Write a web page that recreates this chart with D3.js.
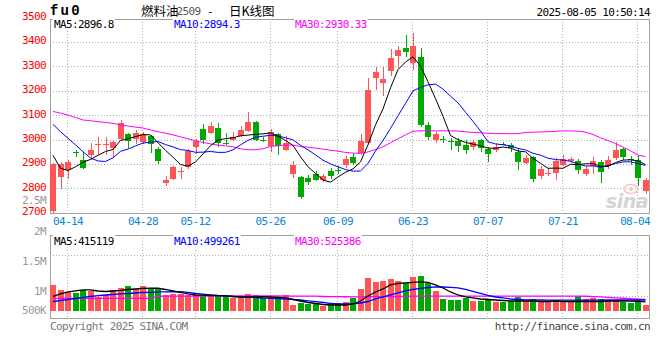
<!DOCTYPE html>
<html><head><meta charset="utf-8">
<script src="https://cdn.jsdelivr.net/npm/d3@7"></script>
<style>body{margin:0;background:#fff}svg{display:block}</style>
</head><body>
<svg id="c" width="660" height="360"></svg>
<script>
const dates = ["04-10","04-11","04-14","04-15","04-16","04-17","04-18","04-21","04-22","04-23","04-24","04-25","04-28","04-29","04-30","05-06","05-07","05-08","05-09","05-12","05-13","05-14","05-15","05-16","05-19","05-20","05-21","05-22","05-23","05-26","05-27","05-28","05-29","05-30","06-03","06-04","06-05","06-06","06-09","06-10","06-11","06-12","06-13","06-16","06-17","06-18","06-19","06-20","06-23","06-24","06-25","06-26","06-27","06-30","07-01","07-02","07-03","07-04","07-07","07-08","07-09","07-10","07-11","07-14","07-15","07-16","07-17","07-18","07-21","07-22","07-23","07-24","07-25","07-28","07-29","07-30","07-31","08-01","08-04","08-05"];
const open  = [2705,2845,2873,2950,2917,2935,2978,2979,2965,3003,3023,3001,2989,3015,2962,2822,2839,2868,2889,2970,3044,3026,3047,2987,2996,3015,3033,3072,2998,2975,3022,2958,2860,2846,2844,2860,2835,2872,2873,2894,2930,2944,2985,3251,3233,3282,3344,3376,3312,3340,3060,2996,3001,2992,2992,2978,2969,2999,2960,2958,2983,2978,2947,2903,2928,2849,2861,2862,2896,2913,2913,2860,2892,2906,2890,2924,2960,2921,2917,2787];
const high  = [2902,2908,2917,2958,2950,2985,3010,3010,2992,3078,3028,3037,3030,3018,2970,2851,2890,2887,2960,3001,3064,3072,3067,3026,3030,3056,3112,3075,3012,3042,3028,3016,2910,2851,2855,2872,2860,2885,2890,2933,2945,3022,3251,3299,3299,3371,3385,3428,3435,3376,3070,3030,3015,3008,3008,2996,2998,3003,2971,2984,2990,2984,2960,2936,2933,2890,2885,2924,2937,2930,2920,2893,2928,2914,2933,2988,2971,2933,2933,2844];
const low   = [2700,2797,2839,2930,2880,2914,2941,2935,2928,3000,2967,2981,2981,2944,2900,2808,2836,2839,2880,2941,2981,3021,2971,2978,2992,3011,3030,2995,2988,2947,2937,2951,2844,2756,2815,2828,2827,2839,2860,2884,2896,2937,2978,3203,3180,3262,3292,3340,3285,3053,2997,2984,2985,2958,2950,2941,2958,2948,2906,2950,2976,2950,2876,2899,2824,2839,2849,2835,2892,2905,2860,2849,2860,2822,2880,2917,2917,2896,2810,2777];
const close = [2900,2898,2906,2946,2884,2958,2983,2983,2988,3069,2992,3028,3023,2982,2910,2835,2887,2872,2951,2995,2999,3056,2985,2984,3010,3040,3072,2999,2995,3030,2972,2985,2896,2764,2824,2835,2851,2851,2871,2921,2903,2995,3203,3278,3248,3335,3367,3360,3383,3060,3012,3023,2998,2989,2975,2955,2988,2965,2941,2971,2981,2965,2906,2924,2838,2879,2863,2910,2920,2920,2873,2879,2913,2865,2917,2955,2928,2919,2842,2835];
const ma5  = [2935,2882,2873,2888,2906.8,2918.4,2935.4,2950.8,2959.2,2996.2,3003,3012,3020,3018.8,2987,2955.6,2927.4,2897.2,2891,2908,2940.8,2974.6,2997.2,3003.8,3006.8,3015,3018.2,3021,3023.2,3027.2,3013.6,2996.2,2975.6,2929.4,2888.2,2860.8,2834,2825,2846.4,2865.8,2879.4,2908.2,2978.6,3060,3125.4,3211.8,3286.2,3317.6,3338.6,3301,3236.4,3167.6,3095.2,3016.4,2999.4,2988,2981,2974.4,2964.8,2964,2969.2,2964.6,2952.8,2949.4,2922.8,2902.4,2882,2882.8,2882,2898.4,2897.2,2900.4,2901,2890,2889.4,2905.8,2915.6,2916.8,2912.2,2896.8];
const ma10 = [3062,3032,3005,2978,2950,2924,2912,2910,2925,2951.5,2960.7,2973.7,2985.4,2989,2991.6,2979.3,2969.7,2958.6,2954.9,2947.5,2948.2,2951,2947.2,2947.4,2957.4,2977.9,2996.4,3009.1,3013.5,3017,3014.3,3007.2,2998.3,2976.3,2957.7,2937.2,2915.1,2900.3,2887.9,2877,2870.1,2871.1,2901.8,2953.2,2995.6,3045.6,3097.2,3148.1,3199.3,3213.2,3224.1,3226.9,3206.4,3177.5,3150.2,3112.2,3074.3,3034.8,2990.6,2981.7,2978.6,2972.8,2963.6,2957.1,2943.4,2935.8,2923.3,2917.8,2915.7,2910.6,2899.8,2891.2,2891.9,2886,2893.9,2901.5,2908,2908.9,2901.1,2894.3];
const ma30 = [3115,3108,3100,3090,3080,3077,3073,3070,3066,3060,3055,3051,3047,3039,3032,3026,3019,3011,3003,2995,2988,2982,2977,2974,2970,2962,2958,2958,2962,2972,2974.4,2977.3,2977,2970.9,2968.9,2964.8,2960.4,2956,2952.1,2947.2,2944.2,2943.1,2949.1,2959,2970.2,2986.9,3002.9,3019.2,3033.6,3035.7,3036.2,3035.1,3035.5,3035.7,3034.5,3031.7,3028.9,3027.7,3025.9,3024,3024.3,3023.6,3023.9,3029.3,3029.7,3031.2,3031.6,3033.6,3035.2,3035.2,3034.2,3030.3,3020.6,3006.9,2995.8,2983.2,2968.5,2953.8,2935.8,2930.33];
const volume = [1183000,955000,878000,805000,955000,910000,650000,728000,955000,1060000,1138000,987000,1138000,1033000,1033000,728000,774000,774000,728000,728000,728000,683000,683000,683000,578000,578000,774000,728000,578000,623000,623000,728000,273000,378000,305000,350000,241000,305000,350000,423000,592000,1001000,1500000,1320000,1365000,1456000,1365000,1274000,1547000,1593000,1274000,910000,560000,480000,520000,600000,450000,470000,560000,430000,420000,440000,620000,460000,540000,430000,400000,520000,420000,430000,700000,560000,600000,560000,498000,480000,430000,380000,520000,265000];
const volMa5 = [660000,774000,865000,910000,956000,956000,910000,887000,910000,933000,978000,1001000,1024000,1033000,1033000,978000,910000,842000,774000,728000,719000,705000,696000,683000,660000,637000,637000,646000,651000,637000,614000,592000,523000,455000,387000,341000,296000,273000,273000,273000,319000,455000,683000,865000,1001000,1183000,1251000,1274000,1297000,1320000,1297000,1183000,1047000,865000,728000,637000,592000,546000,523000,501000,478000,455000,455000,455000,455000,432000,432000,455000,432000,432000,432000,432000,432000,432000,450000,455000,460000,450000,440000,415119];
const volMa10 = [432000,478000,523000,569000,614000,660000,696000,728000,751000,774000,796000,819000,842000,851000,865000,865000,874000,878000,842000,796000,764000,737000,705000,683000,660000,646000,628000,614000,592000,578000,560000,546000,532000,501000,464000,423000,387000,350000,319000,319000,328000,364000,432000,546000,637000,728000,819000,910000,978000,1024000,1069000,1092000,1092000,1078000,1047000,978000,887000,796000,705000,637000,592000,546000,523000,510000,505000,500000,498000,497000,495000,494000,495000,496000,497000,498000,499000,500000,500000,499000,499000,499261];
const volMa30 = [578000,578000,578000,578000,578000,578000,578000,578000,578000,578000,578000,578000,578000,578000,670000,672000,674000,676000,678000,680000,682000,684000,684000,684000,684000,684000,684000,684000,684000,684000,682000,680000,678000,676000,674000,672000,660000,655000,650000,648000,646000,645000,648000,652000,656000,660000,664000,668000,672000,676000,680000,680000,680000,680000,680000,680000,680000,680000,680000,680000,680000,680000,680000,680000,680000,680000,680000,680000,680000,680000,676000,670000,655000,640000,620000,600000,580000,560000,540000,525386];
const priceTicks = [3500,3400,3300,3200,3100,3000,2900,2800,2700];
const volTicks = [2500000,2000000,1500000,1000000,500000];
const dateTicks = ["04-14","04-28","05-12","05-26","06-09","06-23","07-07","07-21","08-04"];

const svg = d3.select("#c");
const mono = "'DejaVu Sans Mono', monospace";
const RED = "#ff5555", GREEN = "#00a800";
const L = 50, R = 649;
const pTop = 18.5, pBot = 212.7, vTop = 234.5, vBot = 318;

const x = d3.scaleBand().domain(dates).range([49.25, 649.25]).paddingInner(0.2).paddingOuter(0.1);
const cx = d => x(d) + x.bandwidth() / 2;
const y = d3.scaleLinear().domain([2700, 3500]).range([212.7, 17.5]);
const vy = d3.scaleLinear().domain([0, 1000000]).range([311, 289]);
const vLabel = d3.scaleLinear().domain([500000, 1000000, 2000000, 2500000]).range([310, 291, 231, 199.5]);

function txt(g, s, xx, yy, opt) {
  return g.append("text").attr("x", xx).attr("y", yy).text(s)
    .attr("font-family", opt.family || mono).attr("font-size", opt.size || 11)
    .attr("letter-spacing", opt.ls !== undefined ? opt.ls : -0.65)
    .attr("fill", opt.fill || "#000").attr("text-anchor", opt.anchor || "start")
    .attr("font-weight", opt.weight || "normal").attr("dominant-baseline", "central");
}

// grid
const grid = svg.append("g").attr("stroke", "#b0b0b0").attr("stroke-dasharray", "1,2").attr("shape-rendering", "crispEdges");
priceTicks.filter(v => v < 3500 && v > 2700).forEach(v => {
  const yy = Math.round(y(v)) + 0.5;
  grid.append("line").attr("x1", L).attr("x2", R).attr("y1", yy).attr("y2", yy);
});
dateTicks.forEach(d => {
  const xx = Math.round(cx(d) - 1) + 0.5;
  grid.append("line").attr("x1", xx).attr("x2", xx).attr("y1", pTop).attr("y2", pBot);
  grid.append("line").attr("x1", xx).attr("x2", xx).attr("y1", vTop).attr("y2", vBot);
});
[255.5, 296.5].forEach(yy => grid.append("line").attr("x1", L).attr("x2", R).attr("y1", yy).attr("y2", yy));

// borders
const bd = svg.append("g").attr("stroke", "#a0a0a0").attr("fill", "none").attr("shape-rendering", "crispEdges");
bd.append("rect").attr("x", L + 0.5).attr("y", pTop + 0.5).attr("width", R - L).attr("height", pBot - pTop);
bd.append("rect").attr("x", L + 0.5).attr("y", vTop + 0.5).attr("width", R - L).attr("height", vBot - vTop);

// sina watermark
const wm = svg.append("g");
wm.append("ellipse").attr("cx", 631).attr("cy", 189).attr("rx", 7).attr("ry", 4.5).attr("fill", "none").attr("stroke", "#f3c4c4").attr("stroke-width", 1.5);
wm.append("circle").attr("cx", 631).attr("cy", 189).attr("r", 2).attr("fill", "#f3c4c4");
txt(wm, "sina", 648, 201, {family: "'DejaVu Sans', sans-serif", size: 19, weight: "bold", fill: "#d4d4d4", anchor: "end", ls: -0.5}).attr("font-style", "italic");

// candles
const cg = svg.append("g").attr("shape-rendering", "crispEdges");
dates.forEach((d, i) => {
  const up = close[i] >= open[i];
  const col = up ? RED : GREEN;
  const X = Math.round(x(d));
  const yh = Math.max(pTop, y(high[i])), yl = Math.min(pBot, y(low[i]));
  cg.append("rect").attr("x", X + 3).attr("width", 1).attr("y", Math.round(yh)).attr("height", Math.max(1, Math.round(yl) - Math.round(yh))).attr("fill", col);
  const yt = Math.round(y(Math.max(open[i], close[i])));
  const yb = Math.round(Math.min(pBot, y(Math.min(open[i], close[i]))));
  cg.append("rect").attr("x", X).attr("width", 6).attr("y", yt).attr("height", Math.max(1, yb - yt)).attr("fill", col);
  const vt = Math.round(vy(volume[i]));
  svg.append("rect").attr("x", X).attr("width", 6).attr("y", vt).attr("height", 311 - vt).attr("fill", col).attr("shape-rendering", "crispEdges");
});

// MA lines
svg.append("clipPath").attr("id", "cp").append("rect").attr("x", L).attr("y", pTop).attr("width", R - L).attr("height", pBot - pTop);
const lineP = arr => d3.line().x((d, i) => cx(dates[i])).y(d => y(d))(arr);
const lineV = arr => d3.line().x((d, i) => cx(dates[i])).y(d => vy(d))(arr);
const mg = svg.append("g").attr("fill", "none").attr("stroke-width", 1).attr("clip-path", "url(#cp)");
[[ma30, "#ff00ff"], [ma10, "#0000ff"], [ma5, "#000"]].forEach(([a, c]) => mg.append("path").attr("d", lineP(a)).attr("stroke", c));
const vg = svg.append("g").attr("fill", "none").attr("stroke-width", 1.3);
[[volMa30, "#ff00ff"], [volMa10, "#0000ff"], [volMa5, "#000"]].forEach(([a, c]) => vg.append("path").attr("d", lineV(a)).attr("stroke", c));

// price axis
const ay = svg.append("g").attr("transform", `translate(${L},0)`)
  .call(d3.axisLeft(y).tickValues(priceTicks).tickSize(0).tickPadding(4).tickFormat(d3.format("d")));
ay.select(".domain").remove();
ay.selectAll("text").attr("font-family", mono).attr("font-size", 11).attr("letter-spacing", -0.65).attr("fill", "#f00").attr("dy", "0.32em").attr("y", -1.5);

// volume label axis
const av = svg.append("g").attr("transform", `translate(${L},0)`)
  .call(d3.axisLeft(vLabel).tickValues(volTicks).tickSize(0).tickPadding(4)
    .tickFormat(v => v >= 1e6 ? (v / 1e6) + "M" : (v / 1e3) + "K"));
av.select(".domain").remove();
av.selectAll("text").attr("font-family", mono).attr("font-size", 11).attr("letter-spacing", -0.65).attr("fill", "#999").attr("dy", "0.32em");

// date axis
const ax = svg.append("g").attr("transform", `translate(0,${pBot})`)
  .call(d3.axisBottom(x).tickValues(dateTicks).tickSize(0).tickPadding(5));
ax.select(".domain").remove();
ax.selectAll("text").attr("font-family", mono).attr("font-size", 11).attr("letter-spacing", -0.65).attr("fill", "#0a84d8").attr("dy", "0.71em");
ax.selectAll(".tick").each(function (d) {
  const t = d3.select(this).select("text");
  const c = cx(d) - 1;
  if (c - 15 < L) t.attr("text-anchor", "start").attr("x", L - c - 1);
  if (c + 15 > R) t.attr("text-anchor", "end").attr("x", R + 1 - c - 1);
});

// legends
function legend(items, yy) {
  const g = svg.append("g");
  items.forEach(([s, xx, col]) => {
    const t = txt(g, s, xx, yy, {fill: col});
    const b = t.node().getBBox();
    g.insert("rect", "text").attr("x", b.x - 1).attr("y", b.y).attr("width", b.width + 2).attr("height", b.height).attr("fill", "#fff");
  });
}
legend([["MA5:" + ma5[79].toFixed(1), 54, "#000"], ["MA10:" + ma10[79].toFixed(1), 174, "#0000ff"], ["MA30:" + ma30[79].toFixed(2), 295, "#ff00ff"]], 24.5);
legend([["MA5:" + volMa5[79], 54, "#000"], ["MA10:" + volMa10[79], 174, "#0000ff"], ["MA30:" + volMa30[79], 295, "#ff00ff"]], 241);

// header
txt(svg, "fu0", 50, 11, {family: "'Liberation Mono', monospace", size: 14, weight: "bold", ls: 2.2});
const cjk = "'Noto Sans CJK SC', sans-serif";
txt(svg, "燃料油", 141, 10.5, {family: cjk, size: 12.5, ls: 0});
txt(svg, "2509", 176.5, 11, {fill: "#555"});
txt(svg, "-", 207, 11, {});
txt(svg, "日K线图", 229, 10.5, {family: cjk, size: 12.5, ls: 0});
txt(svg, "2025-08-05 10:50:14", 650, 12.5, {anchor: "end"});

// footer
txt(svg, "Copyright 2025 SINA.COM", 50, 326, {fill: "#777"});
txt(svg, "http://finance.sina.com.cn", 650, 326, {fill: "#444", anchor: "end"});
</script>
</body></html>
